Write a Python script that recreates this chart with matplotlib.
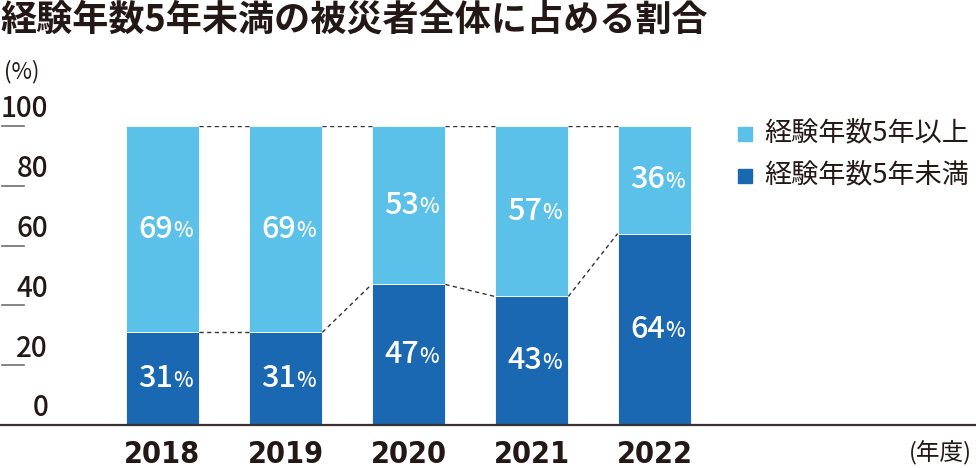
import matplotlib
matplotlib.use('Agg')
import matplotlib.pyplot as plt
import matplotlib.transforms as mtransforms
from matplotlib.patches import Rectangle

plt.rcParams['font.family'] = ['Noto Sans CJK JP', 'DejaVu Sans']

years = ['2018', '2019', '2020', '2021', '2022']
under5 = [31, 31, 47, 43, 64]      # 経験年数5年未満
over5 = [69, 69, 53, 57, 36]       # 経験年数5年以上
yticks = [0, 20, 40, 60, 80, 100]

light = '#5bc1e8'
dark = '#1a67b2'
ink = '#231815'

fig = plt.figure(figsize=(9.76, 4.68), dpi=100)
ax = fig.add_axes([0, 43 / 468, 1, 299 / 468])
ax.set_xlim(-1.321, 6.614)
ax.set_ylim(0, 100)
ax.axis('off')

x = list(range(len(years)))
w = 0.6
ax.bar(x, under5, width=w, color=dark, edgecolor='white', linewidth=0.6)
ax.bar(x, over5, width=w, bottom=under5, color=light, edgecolor='white', linewidth=0.6)

# dashed connectors between bars
for i in range(len(years) - 1):
    tops = [under5[i] + over5[i], under5[i + 1] + over5[i + 1]]
    ax.plot([i + w / 2, i + 1 - w / 2], tops, ls=(0, (3, 2.5)), color='#333333', lw=1)
    ax.plot([i + w / 2, i + 1 - w / 2], [under5[i], under5[i + 1]],
            ls=(0, (3, 2.5)), color='#333333', lw=1)

# percent labels
def pct(xc, yc, v):
    ax.annotate(str(v), (xc, yc), xytext=(7.5, 0), textcoords='offset points',
                ha='right', va='center', color='white', fontsize=22, fontweight='medium')
    ax.annotate('%', (xc, yc), xytext=(7.5, -1.5), textcoords='offset points',
                ha='left', va='center', color='white', fontsize=15, fontweight='medium')

for i in x:
    pct(i, under5[i] / 2, under5[i])
    pct(i, under5[i] + over5[i] / 2, over5[i])

# baseline
ax.axhline(0, color='#3a3232', lw=1.6, clip_on=False)

# y ticks: short lines with labels above
trans = mtransforms.blended_transform_factory(ax.transAxes, ax.transData)
for v in yticks:
    if v > 0:
        ax.plot([2 / 976, 24 / 976], [v, v], transform=trans, color='#707070',
                lw=1.2, clip_on=False)
    ax.text(48 / 976, v + 5.7, str(v), transform=trans, ha='right', va='center',
            fontsize=20, fontweight='medium', color=ink)

# year labels
for i, yr in enumerate(years):
    ax.text(i, -10, yr, ha='center', va='center', fontsize=22, color=ink,
            family=['DejaVu Sans'], fontstretch='condensed', fontweight='bold')

# legend
fig.patches.append(Rectangle((738 / 976, 1 - 141 / 468), 14 / 976, 14 / 468,
                             transform=fig.transFigure, color=light))
fig.patches.append(Rectangle((738 / 976, 1 - 183 / 468), 14 / 976, 14 / 468,
                             transform=fig.transFigure, color=dark))
fig.text(764 / 976, 1 - 133 / 468, '経験年数5年以上', ha='left', va='center',
         fontsize=19.5, color=ink)
fig.text(764 / 976, 1 - 175 / 468, '経験年数5年未満', ha='left', va='center',
         fontsize=19.5, color=ink)

# titles and units
fig.text(0, 1 - 20 / 468, '経験年数5年未満の被災者全体に占める割合', ha='left',
         va='center', fontsize=26, fontweight='bold', color=ink)
fig.text(4 / 976, 1 - 72 / 468, '(%)', ha='left', va='center', fontsize=16, color=ink)
fig.text(972 / 976, 1 - 453 / 468, '(年度)', ha='right', va='center',
         fontsize=17, color=ink)

fig.savefig('out.png', dpi=100)
